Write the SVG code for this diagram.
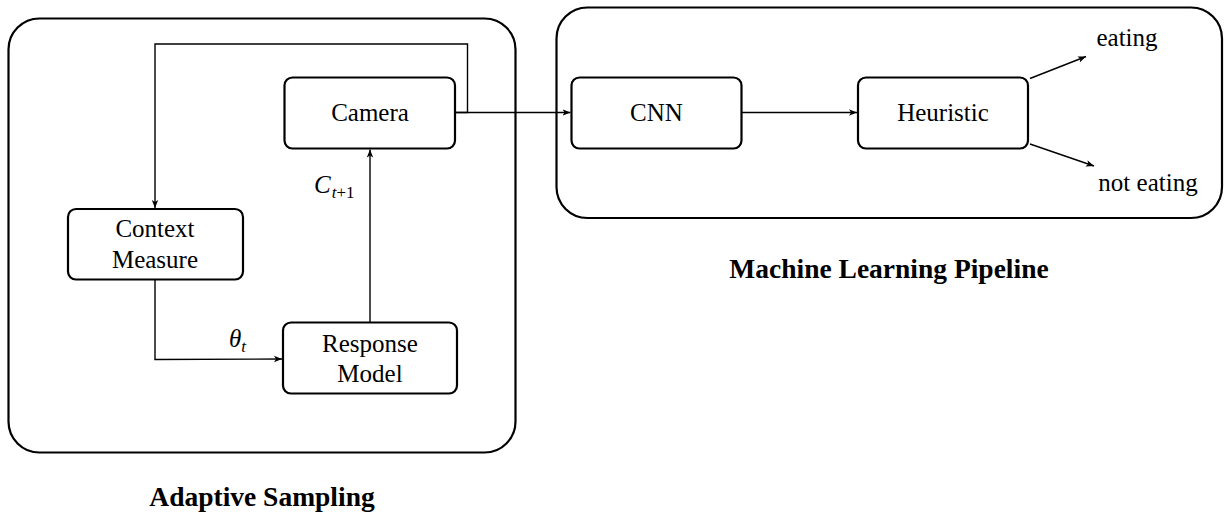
<svg xmlns="http://www.w3.org/2000/svg" width="1224" height="514" viewBox="0 0 1224 514">
<style>
.outer{fill:none;stroke:#000;stroke-width:2.2}
.node{fill:#fff;stroke:#000;stroke-width:2.2}
.conn{fill:none;stroke:#000;stroke-width:1.4}
text{font-family:'Liberation Serif','Times New Roman',serif;fill:#000}
.t{font-size:25px;text-anchor:middle}
.b{font-size:27.5px;font-weight:bold;text-anchor:middle}
.m{font-style:italic;font-size:25px}
.s{font-size:17px;font-style:normal}
.si{font-size:17px;font-style:italic}
</style>
<defs>
<marker id="ah" viewBox="0 0 10 10" refX="10" refY="5" markerWidth="8" markerHeight="8" markerUnits="userSpaceOnUse" orient="auto">
<path d="M0,1 L10,5 L0,9 L2.5,5 Z" fill="#000"/>
</marker>
</defs>
<g id="adaptive-sampling">
<rect class="outer" x="8.5" y="18.5" width="507" height="434" rx="31"/>
<text class="b" x="262" y="506">Adaptive Sampling</text>
</g>
<g id="ml-pipeline">
<rect class="outer" x="556.5" y="7.5" width="665.5" height="210.5" rx="31"/>
<text class="b" x="889" y="278">Machine Learning Pipeline</text>
</g>
<g id="camera">
<rect class="node" x="284.5" y="77.5" width="170.5" height="71" rx="8"/>
<text class="t" x="370" y="121">Camera</text>
</g>
<g id="context-measure">
<rect class="node" x="68" y="209" width="175" height="70.5" rx="8"/>
<text class="t" x="155" y="237">Context</text>
<text class="t" x="155" y="268">Measure</text>
</g>
<g id="response-model">
<rect class="node" x="283" y="322.5" width="174" height="71" rx="8"/>
<text class="t" x="370" y="351.5">Response</text>
<text class="t" x="370" y="381.5">Model</text>
</g>
<g id="cnn">
<rect class="node" x="571.5" y="77.5" width="170" height="71" rx="8"/>
<text class="t" x="656.5" y="121">CNN</text>
</g>
<g id="heuristic">
<rect class="node" x="858" y="77.5" width="170" height="71" rx="8"/>
<text class="t" x="943" y="121">Heuristic</text>
</g>
<g id="eating">
<text class="t" x="1127" y="46">eating</text>
</g>
<g id="not-eating">
<text class="t" x="1148" y="191">not eating</text>
</g>
<g id="connectors">
<path class="conn" d="M455,112.5 L570.5,112.5" marker-end="url(#ah)"/>
<path class="conn" d="M455,112.5 L467.5,112.5 L467.5,44 L155,44 L155,208" marker-end="url(#ah)"/>
<path class="conn" d="M155,280 L155,359.5 L282,359" marker-end="url(#ah)"/>
<path class="conn" d="M370,322.5 L370,149.5" marker-end="url(#ah)"/>
<path class="conn" d="M741.5,112.5 L857,112.5" marker-end="url(#ah)"/>
<path class="conn" d="M1030,78.5 L1086,56.5" marker-end="url(#ah)"/>
<path class="conn" d="M1030,144 L1094,166" marker-end="url(#ah)"/>
<text class="m" x="314" y="193">C<tspan class="si" dx="1" dy="5">t</tspan><tspan class="s" dy="0">+1</tspan></text>
<text class="m" x="229" y="347">θ<tspan class="si" dy="5">t</tspan></text>
</g>
</svg>
